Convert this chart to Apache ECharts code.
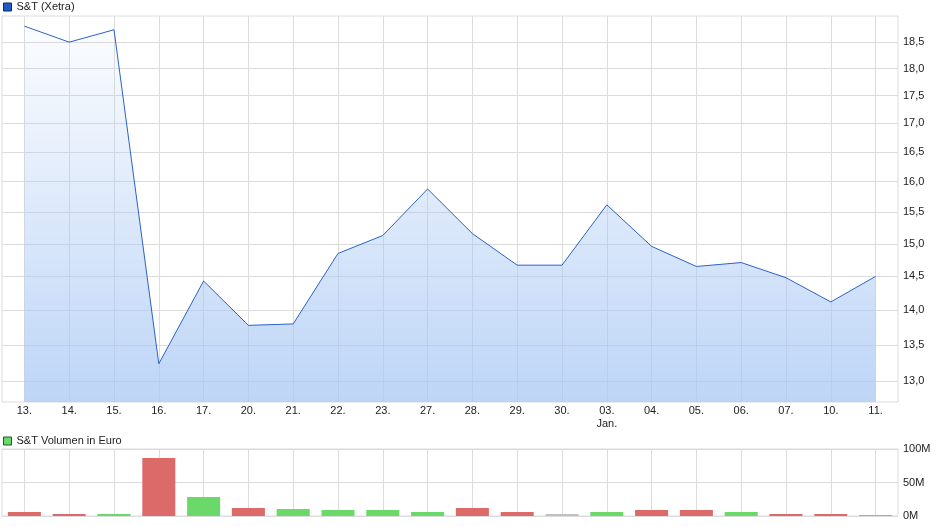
<!DOCTYPE html>
<html>
<head>
<meta charset="utf-8">
<script src="https://cdn.jsdelivr.net/npm/echarts@6/dist/echarts.min.js"></script>
<style>
html,body{margin:0;padding:0;background:#fff;}
#chart{width:940px;height:526px;}
</style>
</head>
<body>
<div id="chart"></div>
<script>
const categories = ['13.','14.','15.','16.','17.','20.','21.','22.','23.','27.','28.','29.','30.','03.','04.','05.','06.','07.','10.','11.'];
const monthMarks = {'03.': 'Jan.'};
const priceValues = [18.81,18.50,18.74,13.24,14.43,13.78,13.80,14.85,15.13,15.88,15.16,14.67,14.67,15.62,14.96,14.65,14.71,14.48,14.12,14.50];
const priceTicks = [13.0,13.5,14.0,14.5,15.0,15.5,16.0,16.5,17.0,17.5,18.0,18.5];
const volumeValues = [6e6,3e6,3e6,86.5e6,28.5e6,12e6,10.5e6,9e6,9e6,6e6,12e6,6e6,3e6,6e6,9e6,9e6,6e6,3e6,3e6,1.5e6];
const volumeDirection = ['down','down','up','down','up','down','up','up','up','up','down','down','flat','up','down','down','up','down','down','up'];

const dirColors = {up:'#6ad96a', down:'#db6a68', flat:'#c0c0c0'};
const FONT = 'Liberation Sans, Arial, sans-serif';
const gridLineColor = '#dcdcdc';

const vLines = categories.map((c, i) => ({xAxis: i}));
const markLineCfg = {
  silent: true, symbol: ['none','none'], animation: false, z: 1,
  label: {show: false},
  lineStyle: {color: gridLineColor, type: 'solid', width: 1},
  emphasis: {disabled: true},
  data: vLines
};

const chart = echarts.init(document.getElementById('chart'), null, {renderer: 'canvas'});
chart.setOption({
  animation: false,
  textStyle: {fontFamily: FONT},
  legend: [
    {left: 3, top: 1, padding: 0, itemWidth: 8, itemHeight: 8, itemGap: 10, selectedMode: false,
     textStyle: {fontSize: 11, color: '#222', fontFamily: FONT, lineHeight: 12},
     data: [{name: 'S&T (Xetra)', icon: 'rect', itemStyle: {color: '#1f5bc4', borderColor: '#0b2a66', borderWidth: 1}}]},
    {left: 3, top: 435, padding: 0, itemWidth: 8, itemHeight: 8, itemGap: 10, selectedMode: false,
     textStyle: {fontSize: 11, color: '#222', fontFamily: FONT, lineHeight: 12},
     data: [{name: 'S&T Volumen in Euro', icon: 'rect', itemStyle: {color: '#6ad96a', borderColor: '#1e5a1e', borderWidth: 1}}]}
  ],
  grid: [
    {left: 2, top: 16, width: 896, height: 386, show: true, borderColor: gridLineColor, borderWidth: 1, backgroundColor: 'transparent'},
    {left: 2, top: 449, width: 896, height: 67, show: true, borderColor: gridLineColor, borderWidth: 1, backgroundColor: 'transparent'}
  ],
  xAxis: [
    {type: 'category', gridIndex: 0, data: categories, boundaryGap: true,
     axisLine: {show: false}, axisTick: {show: false}, splitLine: {show: false},
     axisLabel: {fontSize: 11, color: '#222', margin: 2, lineHeight: 13, fontFamily: FONT,
       formatter: v => monthMarks[v] ? v + '\n' + monthMarks[v] : v}},
    {type: 'category', gridIndex: 1, data: categories, boundaryGap: true,
     axisLine: {show: false}, axisTick: {show: false}, splitLine: {show: false}, axisLabel: {show: false}}
  ],
  yAxis: [
    {type: 'log', logBase: 10, gridIndex: 0, position: 'right', min: 12.724, max: 19.01,
     axisLine: {show: false},
     axisTick: {show: false, customValues: priceTicks},
     axisLabel: {customValues: priceTicks, fontSize: 11, color: '#222', margin: 5, fontFamily: FONT,
       formatter: v => v.toFixed(1).replace('.', ',')},
     splitLine: {show: true, lineStyle: {color: gridLineColor, width: 1}}},
    {type: 'value', gridIndex: 1, position: 'right', min: 0, max: 100e6, interval: 50e6,
     axisLine: {show: false}, axisTick: {show: false},
     axisLabel: {fontSize: 11, color: '#222', margin: 5, fontFamily: FONT,
       formatter: v => Math.round(v / 1e6) + 'M'},
     splitLine: {show: true, lineStyle: {color: gridLineColor, width: 1}}}
  ],
  series: [
    {name: 'gridV0', type: 'line', xAxisIndex: 0, yAxisIndex: 0, data: [], z: 1, silent: true, markLine: markLineCfg},
    {name: 'S&T (Xetra)', type: 'line', xAxisIndex: 0, yAxisIndex: 0, data: priceValues, z: 3,
     showSymbol: false, symbol: 'none', silent: true,
     lineStyle: {color: '#2a62c6', width: 1},
     itemStyle: {color: '#2a62c6'},
     areaStyle: {origin: 'start', opacity: 1, color: new echarts.graphic.LinearGradient(0, 0, 0, 1, [
       {offset: 0, color: 'rgba(167,199,244,0.04)'},
       {offset: 1, color: 'rgba(167,199,244,0.75)'}
     ])}},
    {name: 'gridV1', type: 'line', xAxisIndex: 1, yAxisIndex: 1, data: [], z: 1, silent: true, markLine: markLineCfg},
    {name: 'S&T Volumen in Euro', type: 'bar', xAxisIndex: 1, yAxisIndex: 1, z: 3, barWidth: 33, silent: true,
     itemStyle: {color: '#6ad96a'},
     data: volumeValues.map((v, i) => ({value: v, itemStyle: {color: dirColors[volumeDirection[i]]}}))}
  ]
});
</script>
</body>
</html>
